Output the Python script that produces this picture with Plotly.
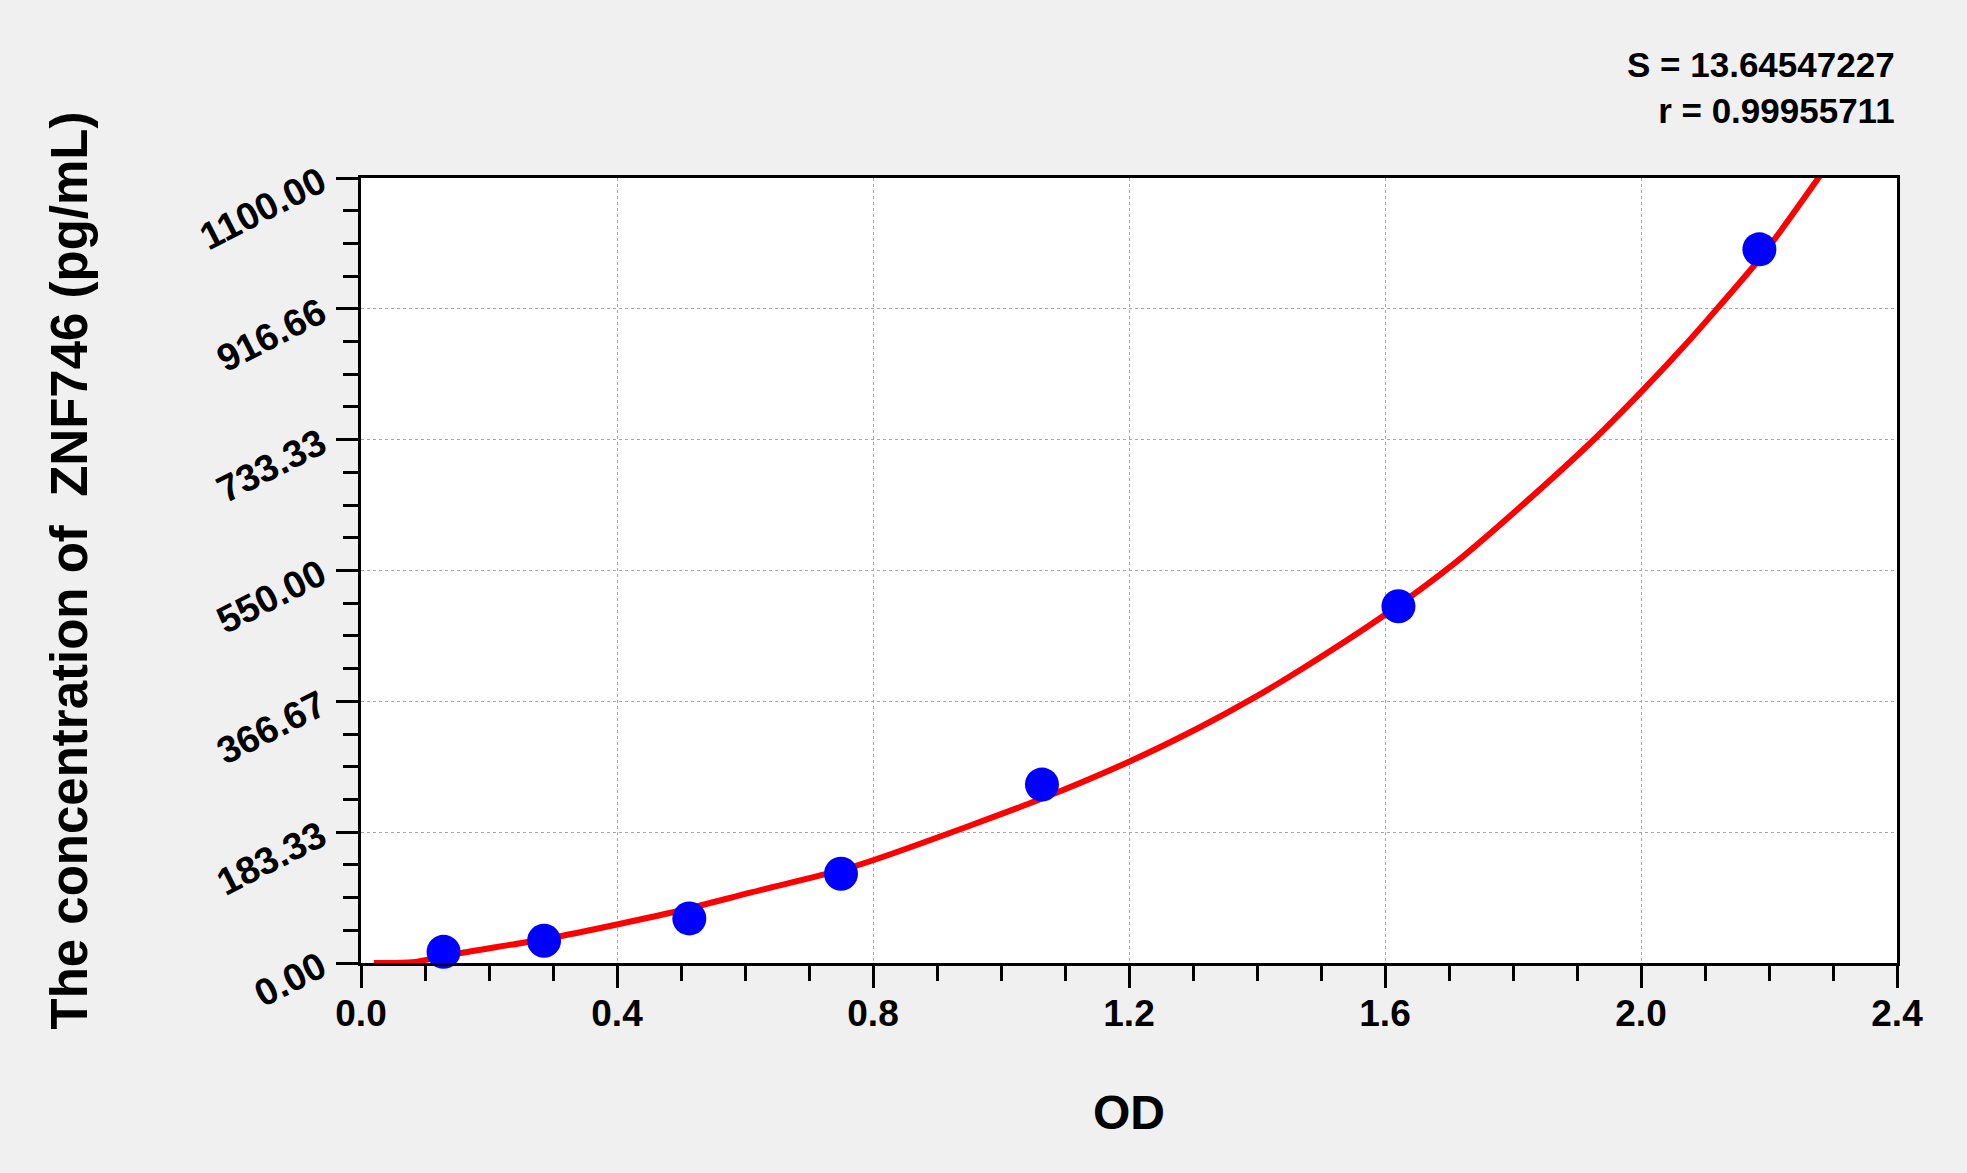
import plotly.graph_objects as go

# Titik standar (OD vs konsentrasi)
od_points = [0.129, 0.286, 0.513, 0.750, 1.064, 1.621, 2.185]
conc_points = [15.6, 31.2, 62.5, 125.0, 250.0, 500.0, 1000.0]

# Kurva fit yang dibaca dari gambar
curve_od = [0.02, 0.08, 0.13, 0.23, 0.29, 0.40, 0.51, 0.61, 0.75, 0.80, 0.95, 1.06,
            1.20, 1.31, 1.39, 1.47, 1.60, 1.71, 1.81, 1.92, 2.00, 2.07, 2.12, 2.19, 2.285]
curve_conc = [0, 1, 10, 25, 34, 54, 76, 99, 130, 144, 192, 229,
              282, 330, 369, 412, 488, 561, 638, 728, 800, 867, 918, 992, 1110]

y_tickvals = [0, 183.33, 366.67, 550, 733.33, 916.66, 1100]
y_ticktext = ["0.00", "183.33", "366.67", "550.00", "733.33", "916.66", "1100.00"]
x_tickvals = [0.0, 0.4, 0.8, 1.2, 1.6, 2.0, 2.4]
x_ticktext = ["0.0", "0.4", "0.8", "1.2", "1.6", "2.0", "2.4"]

stat_lines = ["S = 13.64547227", "r = 0.99955711"]

FONT = "Arial, Liberation Sans, sans-serif"

fig = go.Figure()

fig.add_trace(go.Scatter(
    x=curve_od, y=curve_conc,
    mode="lines",
    line=dict(color="#FF0000", width=6, shape="spline", smoothing=0.8),
    showlegend=False,
))

fig.add_trace(go.Scatter(
    x=od_points, y=conc_points,
    mode="markers",
    marker=dict(color="#0000FF", size=34, line=dict(width=0)),
    showlegend=False,
    cliponaxis=False,
))

axis_common = dict(
    showline=True, linecolor="black", linewidth=3, mirror=True,
    ticks="outside", ticklen=22, tickwidth=3, tickcolor="black",
    showgrid=True, gridcolor="#A8A8A8", gridwidth=1, griddash="dot",
    zeroline=False,
)

fig.update_xaxes(
    range=[0, 2.4],
    tickmode="array", tickvals=x_tickvals, ticktext=x_ticktext,
    tickfont=dict(family=FONT, size=37, color="black", weight="bold"),
    minor=dict(dtick=0.1, tick0=0, ticks="outside", ticklen=15, tickwidth=3,
               tickcolor="black", showgrid=False),
    title=dict(text="OD", font=dict(family=FONT, size=48, color="black", weight="bold"),
               standoff=62),
    ticklabelstandoff=-6,
    **axis_common,
)

fig.update_yaxes(
    range=[0, 1100],
    tickmode="array", tickvals=y_tickvals, ticktext=y_ticktext,
    tickangle=-27,
    tickfont=dict(family=FONT, size=38, color="black", weight="bold"),
    ticklabelstandoff=8,
    minor=dict(dtick=1100 / 24, tick0=0, ticks="outside", ticklen=15, tickwidth=3,
               tickcolor="black", showgrid=False),
    title=dict(text="The concentration of  ZNF746 (pg/mL)",
               font=dict(family=FONT, size=51, color="black", weight="bold"),
               standoff=90),
    **axis_common,
)

fig.add_annotation(
    x=1.0, y=1.0, xref="paper", yref="paper",
    xanchor="right", yanchor="bottom", yshift=46,
    text="<br>".join(stat_lines), align="right", showarrow=False,
    font=dict(family=FONT, size=35, color="black", weight="bold"),
)

fig.update_layout(
    width=1967, height=1173,
    margin=dict(l=361, r=70, t=178, b=210),
    paper_bgcolor="#F0F0F0",
    plot_bgcolor="white",
    showlegend=False,
)

fig.write_html(
    "out.html",
    config={"displayModeBar": False},
    post_script="document.body.style.margin='0';document.body.style.background='#F0F0F0';",
)
